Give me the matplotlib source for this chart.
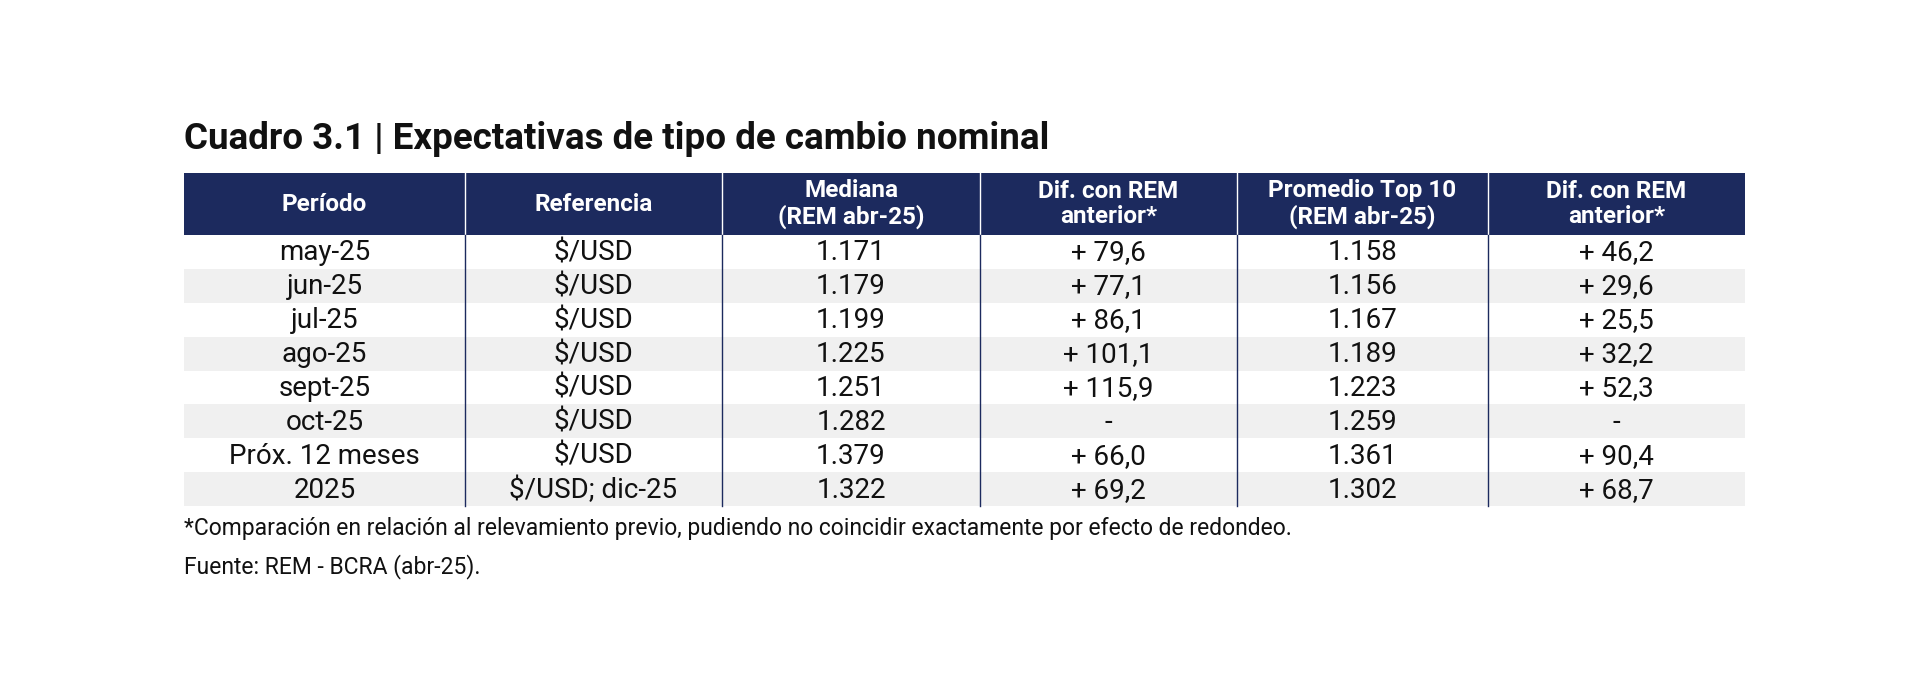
import matplotlib
matplotlib.use("Agg")
import matplotlib.pyplot as plt
from matplotlib.patches import Rectangle

title = "Cuadro 3.1 | Expectativas de tipo de cambio nominal"
headers = ["Período", "Referencia", "Mediana\n(REM abr-25)", "Dif. con REM\nanterior*",
           "Promedio Top 10\n(REM abr-25)", "Dif. con REM\nanterior*"]
periodos = ["may-25", "jun-25", "jul-25", "ago-25", "sept-25", "oct-25", "Próx. 12 meses", "2025"]
referencias = ["$/USD"] * 7 + ["$/USD; dic-25"]
mediana = ["1.171", "1.179", "1.199", "1.225", "1.251", "1.282", "1.379", "1.322"]
dif_mediana = ["+ 79,6", "+ 77,1", "+ 86,1", "+ 101,1", "+ 115,9", "-", "+ 66,0", "+ 69,2"]
top10 = ["1.158", "1.156", "1.167", "1.189", "1.223", "1.259", "1.361", "1.302"]
dif_top10 = ["+ 46,2", "+ 29,6", "+ 25,5", "+ 32,2", "+ 52,3", "-", "+ 90,4", "+ 68,7"]
nota = "*Comparación en relación al relevamiento previo, pudiendo no coincidir exactamente por efecto de redondeo."
fuente = "Fuente: REM - BCRA (abr-25)."

W, H = 1920, 694
fig = plt.figure(figsize=(W / 100, H / 100), dpi=100)
ax = fig.add_axes([0, 0, 1, 1])
ax.set_xlim(0, W)
ax.set_ylim(H, 0)
ax.axis("off")

navy = "#1c2a5e"
font = "Roboto"
cols = [184, 465, 722, 980, 1237, 1488, 1745]
hy0, hy1 = 173, 235
rh = (506 - hy1) / len(periodos)

ax.text(184, 139, title, fontsize=26.5, fontweight="bold", family=font, va="center", color="#111")
ax.add_patch(Rectangle((cols[0], hy0), cols[-1] - cols[0], hy1 - hy0, color=navy, lw=0))
for i, h in enumerate(headers):
    ax.text((cols[i] + cols[i + 1]) / 2, (hy0 + hy1) / 2, h, color="white", fontsize=17.5,
            fontweight="bold", family=font, ha="center", va="center", linespacing=1.1)
for x in cols[1:-1]:
    ax.plot([x, x], [hy0, hy1], color="white", lw=1)

rows = list(zip(periodos, referencias, mediana, dif_mediana, top10, dif_top10))
for r, row in enumerate(rows):
    y0 = hy1 + r * rh
    if r % 2 == 1:
        ax.add_patch(Rectangle((cols[0], y0), cols[-1] - cols[0], rh, color="#f0f0f0", lw=0))
    for i, v in enumerate(row):
        ax.text((cols[i] + cols[i + 1]) / 2, y0 + rh / 2 + 1, v, fontsize=20, family=font,
                ha="center", va="center", color="#111")
for x in cols[1:-1]:
    ax.plot([x, x], [hy1, 506], color=navy, lw=1)

ax.text(184, 529, nota, fontsize=16.5, family=font, va="center", color="#111")
ax.text(184, 567, fuente, fontsize=16.5, family=font, va="center", color="#111")

fig.savefig("out.png", dpi=100, facecolor="white")
